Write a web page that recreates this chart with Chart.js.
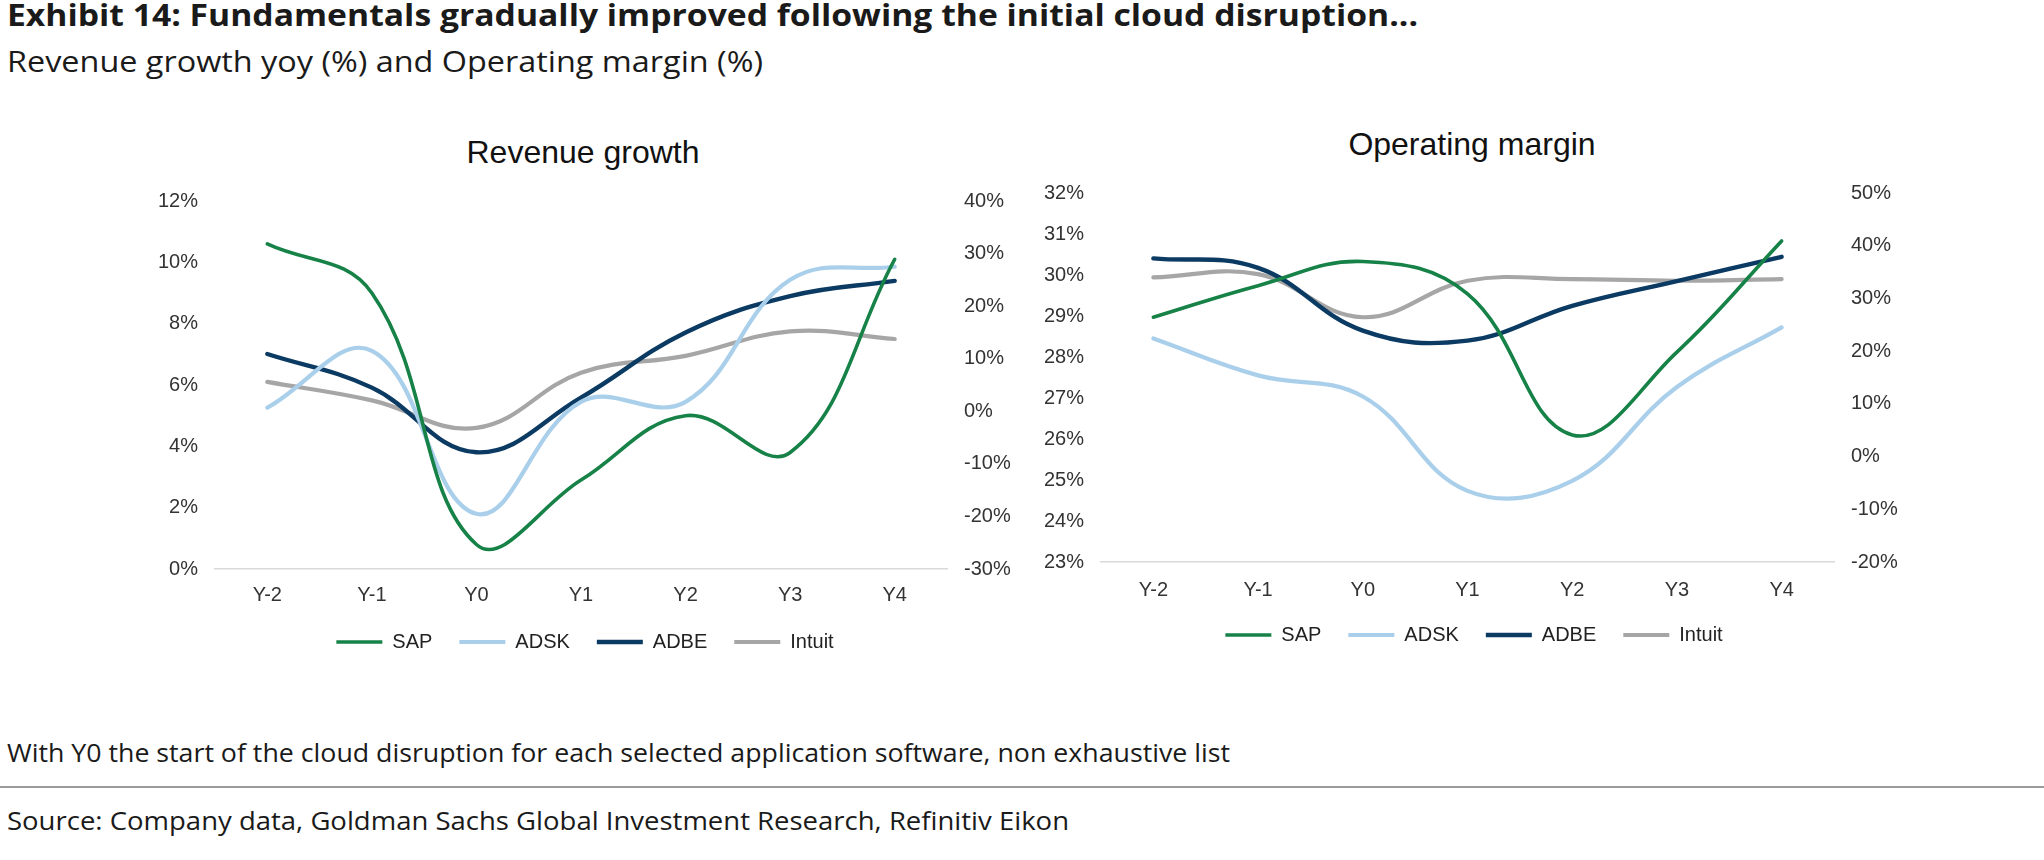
<!DOCTYPE html>
<html><head><meta charset="utf-8">
<script src="https://cdn.jsdelivr.net/npm/chart.js@4.4.1/dist/chart.umd.min.js"></script>
<style>
html,body{margin:0;padding:0;background:#fff;width:2044px;height:860px;overflow:hidden;position:relative;}
.t{position:absolute;left:7px;white-space:nowrap;line-height:1;font-family:"Open Sans","Noto Sans",sans-serif;color:#1a1a1a;transform-origin:0 0;display:inline-block;}
#title{top:-1px;font-size:31px;font-weight:700;}
#sub{top:46px;font-size:29px;}
#note{top:739px;font-size:26px;}
#src{top:807px;font-size:26px;}
#rule{position:absolute;left:0;top:786px;width:2044px;height:2px;background:#9a9a9a;}
.ct{position:absolute;font-family:"Liberation Sans",Arial,sans-serif;font-size:32px;color:#111;white-space:nowrap;transform:translate(-50%,-50%);line-height:1;}
canvas{position:absolute;}
</style></head>
<body>
<div id="title" class="t" data-tw="1411">Exhibit 14: Fundamentals gradually improved following the initial cloud disruption...</div>
<div id="sub" class="t" data-tw="756">Revenue growth yoy (%) and Operating margin (%)</div>
<div class="ct" style="left:583px;top:152px;">Revenue growth</div>
<div class="ct" style="left:1472px;top:144px;">Operating margin</div>
<canvas id="c1" width="890" height="490" style="left:140px;top:172px;"></canvas>
<canvas id="c2" width="888" height="491" style="left:1030px;top:164px;"></canvas>
<div id="note" class="t" data-tw="1223">With Y0 the start of the cloud disruption for each selected application software, non exhaustive list</div>
<div id="rule"></div>
<div id="src" class="t" data-tw="1062">Source: Company data, Goldman Sachs Global Investment Research, Refinitiv Eikon</div>
<script>
// ---- data ----
const categories = ['Y-2', 'Y-1', 'Y0', 'Y1', 'Y2', 'Y3', 'Y4'];
const seriesNames = ['SAP', 'ADSK', 'ADBE', 'Intuit'];
// Revenue growth yoy (%) — SAP & Intuit on left axis, ADSK & ADBE on right axis
const revSAP    = [10.6, 9.0, 0.8, 2.9, 5.0, 3.8, 10.1];
const revADSK   = [0.7, 11.5, -19.5, 1.8, 1.8, 25.0, 27.5];
const revADBE   = [10.9, 4.5, -7.8, 2.6, 15.0, 21.9, 24.8];
const revIntuit = [6.1, 5.5, 4.6, 6.4, 6.95, 7.75, 7.5];
// Operating margin (%) — SAP & Intuit on left axis, ADSK & ADBE on right axis
const omSAP    = [28.97, 29.74, 30.33, 29.54, 26.1, 28.12, 30.83];
const omADSK   = [22.4, 15.4, 11.4, -6.5, -4.6, 13.2, 24.5];
const omADBE   = [37.6, 35.8, 23.9, 22.0, 28.6, 33.3, 37.9];
const omIntuit = [29.94, 30.02, 28.97, 29.86, 29.9, 29.86, 29.9];
// axis ranges / tick steps
const revLeftAxis  = [0, 12, 2];
const revRightAxis = [-30, 40, 10];
const omLeftAxis   = [23, 32, 1];
const omRightAxis  = [-20, 50, 10];

const colors = {SAP:'#178248', ADSK:'#aacfeb', ADBE:'#0b3a63', Intuit:'#a6a6a6'};
const widths = {SAP:3.6, ADSK:4.2, ADBE:4.4, Intuit:4.2};
const tickFont = {family:'"Liberation Sans", Arial, sans-serif', size:20};
const tickColor = '#333';

function ds(name, data, axis){
  return {label:name, data:data, yAxisID:axis, borderColor:colors[name], backgroundColor:colors[name],
    borderWidth:widths[name], pointRadius:0, pointHoverRadius:0, tension:0.4, fill:false,
    borderCapStyle:'round', borderJoinStyle:'round', pointStyle:'line'};
}
function yAxis(pos, range, w){
  return {type:'linear', position:pos, min:range[0], max:range[1],
    grid:{display:false, drawTicks:false}, border:{display:false},
    ticks:{stepSize:range[2], padding:17, color:tickColor, font:tickFont, callback:v=>v+'%'},
    afterFit:s=>{s.width=w;}};
}
function makeChart(id, sets, leftR, rightR, lw, rw, xh, xpad){
  return new Chart(document.getElementById(id), {
    type:'line',
    data:{labels:categories, datasets:sets},
    options:{
      responsive:false, animation:false,
      layout:{padding:{top:20, bottom:0, left:0, right:0}},
      plugins:{
        title:{display:false}, tooltip:{enabled:false},
        legend:{position:'bottom', labels:{usePointStyle:true, pointStyle:'line', pointStyleWidth:46,
          padding:27, color:'#222', font:{family:'"Liberation Sans", Arial, sans-serif', size:20}}}
      },
      scales:{
        x:{type:'category', offset:true, grid:{display:false, drawTicks:false},
          border:{display:true, color:'#d9d9d9', width:1.5},
          ticks:{padding:xpad, color:tickColor, font:tickFont, maxRotation:0, autoSkip:false},
          afterFit:s=>{s.height=xh;}},
        y:yAxis('left', leftR, lw),
        y1:yAxis('right', rightR, rw)
      }
    }
  });
}
makeChart('c1', [ds('SAP',revSAP,'y'), ds('ADSK',revADSK,'y1'), ds('ADBE',revADBE,'y1'), ds('Intuit',revIntuit,'y')],
  revLeftAxis, revRightAxis, 75, 83, 36, 14);
makeChart('c2', [ds('SAP',omSAP,'y'), ds('ADSK',omADSK,'y1'), ds('ADBE',omADBE,'y1'), ds('Intuit',omIntuit,'y')],
  omLeftAxis, omRightAxis, 71, 84, 36, 16);

function fit(){
  document.querySelectorAll('.t').forEach(el=>{el.style.transform='none';});
  document.querySelectorAll('[data-tw]').forEach(el=>{
    const w = el.getBoundingClientRect().width;
    el.style.transform = 'scaleX(' + (el.dataset.tw / w) + ')';
  });
}
fit();
if (document.fonts && document.fonts.ready) document.fonts.ready.then(fit);
</script>
</body></html>
